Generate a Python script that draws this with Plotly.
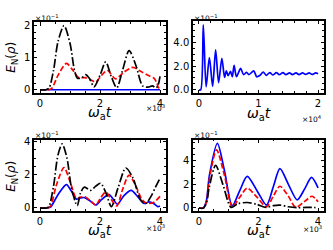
import plotly.graph_objects as go

# ---------------- data (x in units of 10^3 or 10^4, y in units of 10^-1) -------------
# Panel (a) top-left
p1_black_x = [0, 0.2, 0.3, 0.45, 0.6, 0.8, 1.0, 1.15, 1.25, 1.4, 1.52, 1.65, 1.8, 2.0, 2.19, 2.38, 2.56, 2.75, 2.97, 3.2, 3.42, 3.6, 3.75, 3.85, 3.92, 4.0]
p1_black_y = [0, 0, 0.05, 0.6, 1.5, 2.0, 1.45, 0.6, 0.36, 0.38, 0.47, 0.35, 0.09, 0.45, 0.87, 0.4, 0.06, 0.6, 1.22, 0.75, 0.12, 0.08, 0.12, 0.06, 0.1, 0.42]
p1_red_x = [0, 0.3, 0.4, 0.6, 0.88, 1.1, 1.3, 1.5, 1.7, 1.86, 2.05, 2.25, 2.52, 2.8, 3.1, 3.35, 3.6, 3.8, 3.9, 3.95, 4.0]
p1_red_y = [0, 0, 0.05, 0.45, 0.82, 0.6, 0.37, 0.38, 0.3, 0.24, 0.45, 0.6, 0.34, 0.55, 0.7, 0.58, 0.45, 0.36, 0.2, 0.06, 0.12]
p1_blue_x = [0, 1, 2, 3, 4]
p1_blue_y = [0, 0, 0, 0, 0]

# Panel (b) top-right (x in 10^4)
p2_blue_x = [0, 0.03, 0.073, 0.12, 0.175, 0.23, 0.28, 0.33, 0.385, 0.43, 0.46, 0.49, 0.53, 0.56, 0.59, 0.63, 0.7, 0.75, 0.8, 0.84, 0.92, 0.97,
             1.02, 1.08, 1.13, 1.19, 1.24, 1.30, 1.35, 1.41, 1.46, 1.52, 1.57, 1.63, 1.68, 1.74, 1.79, 1.85, 1.90, 1.96, 2.0]
p2_blue_y = [0, 0, 5.45, 0.25, 2.7, 0.3, 3.35, 0.6, 2.65, 1.05, 1.6, 1.2, 1.55, 1.1, 2.05, 1.1, 1.8, 1.28, 1.47, 1.28, 1.6, 1.1,
             1.2, 1.5, 1.22, 1.45, 1.25, 1.45, 1.27, 1.45, 1.27, 1.43, 1.28, 1.43, 1.28, 1.42, 1.3, 1.42, 1.3, 1.42, 1.35]

# Panel (c) bottom-left
p3_black_x = [0, 0.22, 0.3, 0.45, 0.6, 0.74, 0.9, 1.05, 1.24, 1.35, 1.47, 1.6, 1.69, 1.85, 2.02, 2.2, 2.38, 2.6, 2.86, 3.1, 3.35, 3.52, 3.7, 3.85, 4.0]
p3_black_y = [0, 0, 0.1, 1.3, 3.2, 3.86, 3.0, 1.2, 0.14, 0.9, 1.25, 1.15, 1.06, 1.3, 1.49, 0.9, 0.08, 1.2, 2.41, 1.8, 0.5, 0.27, 0.7, 1.25, 1.8]
p3_red_x = [0, 0.25, 0.35, 0.55, 0.8, 1.0, 1.22, 1.35, 1.5, 1.7, 1.86, 2.0, 2.19, 2.38, 2.56, 2.75, 2.97, 3.2, 3.4, 3.58, 3.8, 4.0]
p3_red_y = [0, 0, 0.1, 1.4, 2.43, 1.6, 0.55, 0.65, 0.68, 0.4, 0.18, 0.55, 0.96, 0.5, 0.12, 1.1, 1.98, 1.3, 0.5, 0.27, 0.35, 0.7]
p3_blue_x = [0, 0.25, 0.35, 0.6, 0.88, 1.05, 1.22, 1.35, 1.47, 1.65, 1.86, 2.05, 2.3, 2.45, 2.58, 2.8, 3.04, 3.25, 3.47, 3.63, 3.8, 3.93, 4.0]
p3_blue_y = [0, 0, 0.05, 0.8, 1.41, 1.0, 0.53, 0.6, 0.63, 0.45, 0.18, 0.5, 0.8, 0.5, 0.22, 0.75, 1.06, 0.7, 0.27, 0.37, 0.25, 0.08, 0.12]

# Panel (d) bottom-right
p4_blue_x = [0, 0.15, 0.25, 0.35, 0.62, 0.85, 1.12, 1.37, 1.62, 1.95, 2.27, 2.5, 2.72, 3.0, 3.3, 3.55, 3.78, 4.0]
p4_blue_y = [0, 0, 0.6, 2.7, 5.41, 3.2, 0.19, 1.45, 2.64, 1.45, 0.24, 1.8, 3.29, 2.0, 0.68, 1.6, 2.56, 1.69]
p4_red_x = [0, 0.15, 0.25, 0.35, 0.59, 0.85, 1.12, 1.37, 1.62, 1.95, 2.27, 2.5, 2.72, 3.0, 3.25, 3.55, 3.8, 4.0]
p4_red_y = [0, 0, 0.5, 2.4, 4.87, 2.8, 0.1, 0.9, 1.66, 0.9, 0.1, 1.0, 1.82, 1.0, 0.05, 0.55, 0.98, 0.52]
p4_black_x = [0, 0.15, 0.25, 0.35, 0.56, 0.8, 1.08, 1.3, 1.62, 1.95, 2.25, 2.5, 2.72, 3.0, 3.3, 3.6, 3.8, 4.0]
p4_black_y = [0, 0, 0.4, 1.8, 3.56, 2.0, 0.05, 0.35, 0.46, 0.3, 0.05, 0.2, 0.24, 0.1, 0.02, 0.05, 0.05, 0.02]

# tick labels
xt_small = [0, 2, 4]
xt_big = [0, 1, 2]
yt_p1 = [0, 1, 2]
yt_p2 = [0, 2, 4]
yt_p3 = [0, 2, 4]
yt_p4 = [0, 2, 4]

W, H = 333, 250
FONT = "DejaVu Sans"

def px_x(p):
    return p / W

def px_y(p):
    return 1 - p / H

fig = go.Figure()

BLUE = "#0000ff"
RED = "#ff0000"
BLACK = "#000000"
DASH = "5.5px,2.4px"
DASHDOT = "9px,2.4px,1.5px,2.4px"

def add(x, y, color, dash, n):
    fig.add_trace(go.Scatter(
        x=x, y=y, mode="lines",
        line=dict(color=color, width=1.7, dash=dash, shape="spline", smoothing=0.8),
        xaxis="x" if n == 1 else f"x{n}", yaxis="y" if n == 1 else f"y{n}",
        showlegend=False, hoverinfo="skip"))

add(p1_blue_x, p1_blue_y, BLUE, "solid", 1)
add(p1_red_x, p1_red_y, RED, DASH, 1)
add(p1_black_x, p1_black_y, BLACK, DASHDOT, 1)
add(p2_blue_x, p2_blue_y, BLUE, "solid", 2)
add(p3_blue_x, p3_blue_y, BLUE, "solid", 3)
add(p3_red_x, p3_red_y, RED, DASH, 3)
add(p3_black_x, p3_black_y, BLACK, DASHDOT, 3)
add(p4_blue_x, p4_blue_y, BLUE, "solid", 4)
add(p4_red_x, p4_red_y, RED, DASH, 4)
add(p4_black_x, p4_black_y, BLACK, DASHDOT, 4)

def axis_common(domain, rng, ticks, minor_dt, anchor, fmt=None):
    d = dict(
        domain=domain, range=rng, tickvals=ticks, anchor=anchor,
        showline=True, mirror="ticks", linecolor="black", linewidth=1.5,
        ticks="inside", ticklen=3.5, tickwidth=1.2, tickcolor="black",
        showgrid=False, zeroline=False,
        tickfont=dict(family=FONT, size=10, color="black"),
        minor=dict(ticks="inside", ticklen=2, tickwidth=0.8, tickcolor="black", dtick=minor_dt, tick0=0),
        fixedrange=True,
    )
    if fmt:
        d["tickformat"] = fmt
    return d

# panel pixel boxes: (left, right, top, bottom)
b1 = (34, 166, 18.7, 91.3)
b2 = (193, 324, 17.3, 91.4)
b3 = (34, 166, 139.4, 212.3)
b4 = (193, 324, 139.0, 212.3)

def xd(b):
    return [px_x(b[0]), px_x(b[1])]

def yd(b):
    return [px_y(b[3]), px_y(b[2])]

fig.update_layout(
    width=W, height=H,
    margin=dict(l=0, r=0, t=0, b=0),
    paper_bgcolor="white", plot_bgcolor="white",
    xaxis=axis_common(xd(b1), [-0.2, 4.2], xt_small, 0.5, "y"),
    yaxis=axis_common(yd(b1), [-0.105, 2.105], yt_p1, 0.2, "x"),
    xaxis2=axis_common(xd(b2), [-0.1, 2.1], xt_big, 0.2, "y2"),
    yaxis2=axis_common(yd(b2), [-0.275, 5.775], yt_p2, 0.5, "x2", ".1f"),
    xaxis3=axis_common(xd(b3), [-0.2, 4.2], xt_small, 0.5, "y3"),
    yaxis3=axis_common(yd(b3), [-0.195, 4.095], yt_p3, 0.5, "x3"),
    xaxis4=axis_common(xd(b4), [-0.2, 4.2], xt_small, 0.5, "y4"),
    yaxis4=axis_common(yd(b4), [-0.27, 5.72], yt_p4, 0.5, "x4"),
)

annots = []

def txt(text, x, y, size, xanchor="center", yanchor="middle", angle=0):
    annots.append(dict(text=text, x=px_x(x), y=px_y(y), xref="paper", yref="paper",
                       xanchor=xanchor, yanchor=yanchor, showarrow=False, textangle=angle,
                       font=dict(family=FONT, size=size, color="black")))

XLAB = "<i>ω</i><sub>a</sub><i>t</i>"
YLAB = "<i>E</i><sub>N</sub>(<i>ρ</i>)"
OFF1 = "×10<sup>−1</sup>"

# x labels
txt(XLAB, 100, 112, 14)
txt(XLAB, 259, 113, 14)
txt(XLAB, 100, 233, 14)
txt(XLAB, 259, 233, 14)
# y labels
txt(YLAB, 12, 55, 12, angle=-90)
txt(YLAB, 12, 177, 12, angle=-90)
# offset texts
txt(OFF1, 33, 14, 7.5, xanchor="left")
txt(OFF1, 192, 14, 7.5, xanchor="left")
txt(OFF1, 33, 134, 7.5, xanchor="left")
txt(OFF1, 192, 134, 7.5, xanchor="left")
txt("×10<sup>3</sup>", 167, 107, 7.5, xanchor="right")
txt("×10<sup>4</sup>", 324, 118, 7.5, xanchor="right")
txt("×10<sup>3</sup>", 167, 230, 7.5, xanchor="right")
txt("×10<sup>3</sup>", 324, 231, 7.5, xanchor="right")

fig.update_layout(annotations=annots)

fig.write_html("out.html", config={"displayModeBar": False})

# remove default browser page margin so the figure sits at the window origin
with open("out.html", "r", encoding="utf-8") as f:
    html = f.read()
html = html.replace("<head>", "<head><style>html,body{margin:0;padding:0;overflow:hidden;}</style>", 1)
with open("out.html", "w", encoding="utf-8") as f:
    f.write(html)
